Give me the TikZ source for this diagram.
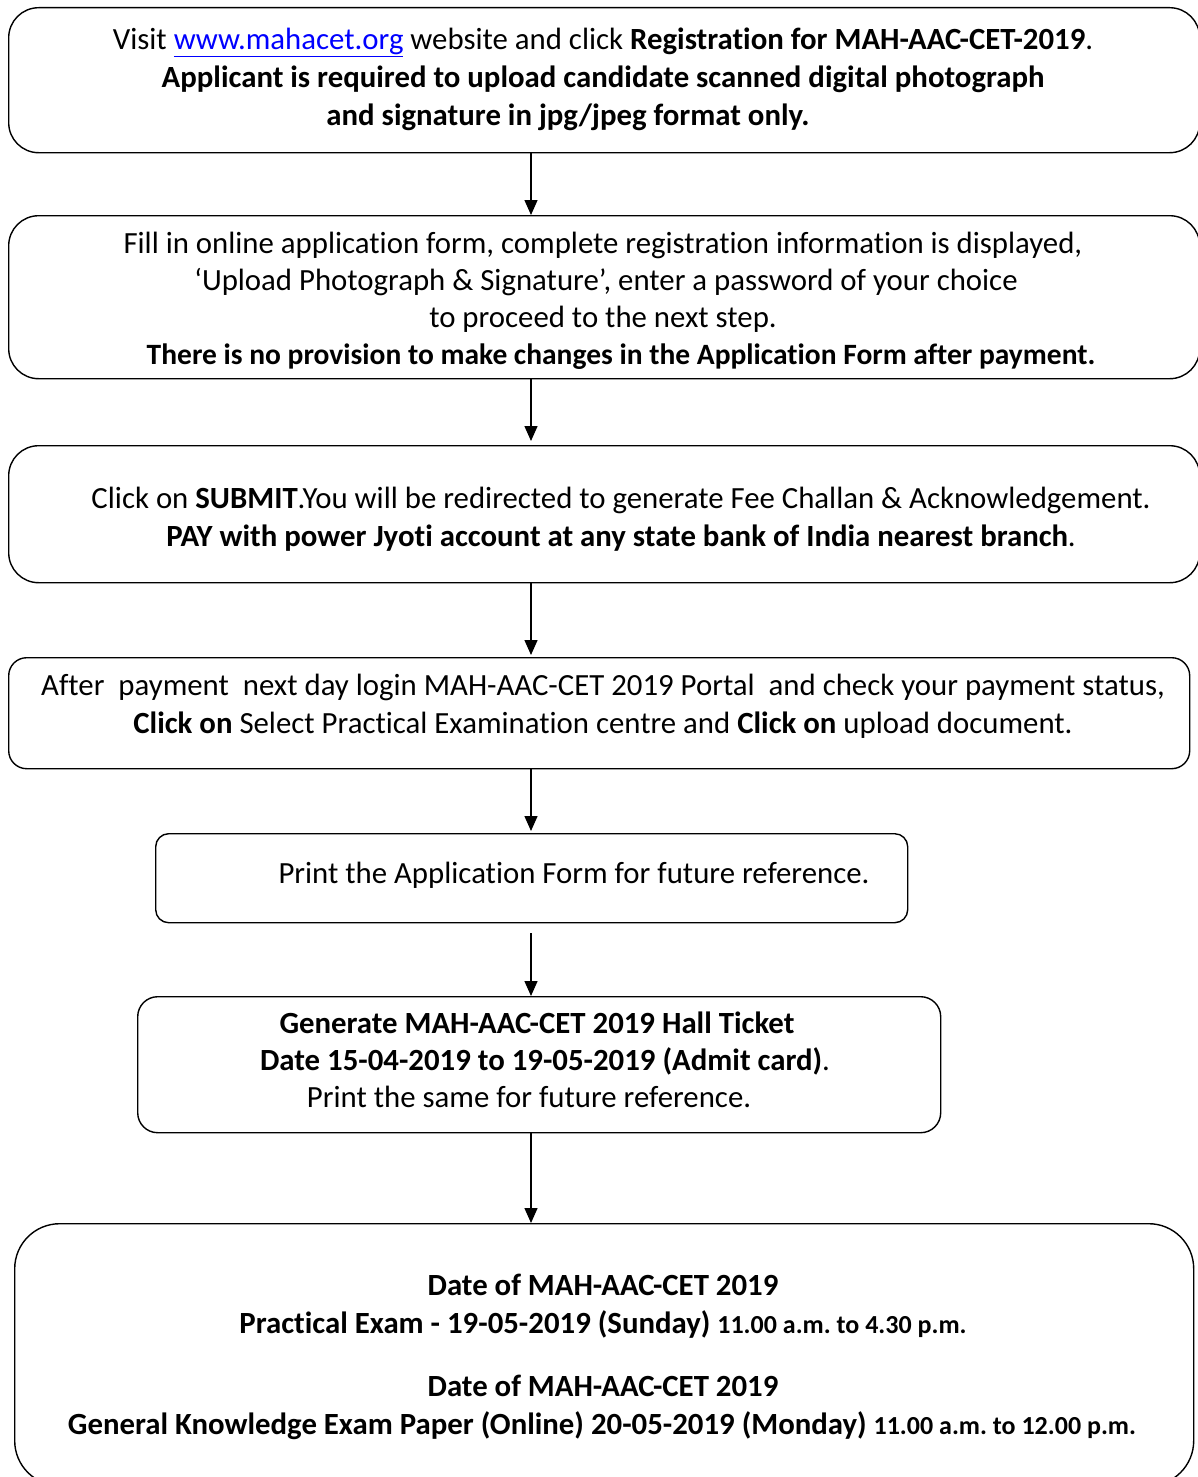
\documentclass[tikz,border=0pt]{standalone}
\usepackage{fontspec}
\setmainfont[Ligatures=CommonOff]{Carlito}
\usetikzlibrary{arrows.meta}
\frenchspacing
\definecolor{linkblue}{RGB}{0,0,255}
\newcommand\linktext[1]{\textcolor{linkblue}{\underline{#1}}}
\tikzset{
  box/.style={draw, line width=1.4pt, rounded corners=#1, anchor=north west, inner sep=0pt},
  txt/.style={anchor=base, inner sep=0pt, font=\fontsize{30.8}{37}\selectfont\frenchspacing},
  btxt/.style={anchor=base, inner sep=0pt, font=\fontsize{30.8}{37}\selectfont\bfseries\frenchspacing},
  arr/.style={line width=1.4pt, -{Triangle[width=13pt,length=15pt]}},
}
\newcommand\smalltxt[1]{{\fontsize{26}{31}\selectfont #1}}
\begin{document}
\begin{tikzpicture}[x=1pt,y=-1pt]
\useasboundingbox (0,0) rectangle (1197,1477);
\fill[white] (0,0) rectangle (1197,1477);

% boxes
\node[box=30pt, minimum width=1191pt, minimum height=145pt] (b1) at (8,7) {};
\node[box=30pt, minimum width=1191pt, minimum height=163pt] (b2) at (8,215) {};
\node[box=30pt, minimum width=1191pt, minimum height=137pt] (b3) at (8,445) {};
\node[box=18pt, minimum width=1181pt, minimum height=111pt] (b4) at (8,657) {};
\node[box=13pt, minimum width=752pt, minimum height=89pt] (b5) at (155,833) {};
\node[box=20pt, minimum width=803pt, minimum height=136pt] (b6) at (137,996) {};
\node[box=45pt, minimum width=1179pt, minimum height=262pt] (b7) at (14,1223) {};

% arrows
\coordinate (ax) at (531,0);
\draw[arr] (b1.south -| ax) -- (b2.north -| ax);
\draw[arr, shorten >=4pt] (b2.south -| ax) -- (b3.north -| ax);
\draw[arr, shorten >=2pt] (b3.south -| ax) -- (b4.north -| ax);
\draw[arr, shorten >=2pt] (b4.south -| ax) -- (b5.north -| ax);
\draw[arr, shorten <=10pt] (b5.south -| ax) -- (b6.north -| ax);
\draw[arr] (b6.south -| ax) -- (b7.north -| ax);

% box 1 text
\node[txt] (t11) at (603,50) {Visit \linktext{www.mahacet.org} website and click \textbf{Registration for MAH-AAC-CET-2019}.};
\node[btxt] (t12) at (603,88) {Applicant is required to upload candidate scanned digital photograph};
\node[btxt] (t13) at (568,125) {and signature in jpg/jpeg format only.};

% box 2 text
\node[txt] (t21) at (603,253) {Fill in online application form, complete registration information is displayed,};
\node[txt] (t22) at (606,290) {‘Upload Photograph \& Signature’, enter a password of your choice};
\node[txt] (t23) at (603,327) {to proceed to the next step.};
\node[btxt, font=\fontsize{29.5}{36}\selectfont\bfseries\frenchspacing] (t24) at (621,364) {There is no provision to make changes in the Application Form after payment.};

% box 3 text
\node[txt] (t31) at (621,508) {Click on \textbf{SUBMIT}.You will be redirected to generate Fee Challan \& Acknowledgement.};
\node[txt] (t32) at (621,546) {\textbf{PAY with power Jyoti account at any state bank of India nearest branch}.};

% box 4 text
\node[txt] (t41) at (603,695) {After\ \ payment\ \ next day login MAH-AAC-CET 2019 Portal\ \ and check your payment status,};
\node[txt] (t42) at (603,733) {\textbf{Click on} Select Practical Examination centre and \textbf{Click on} upload document.};

% box 5 text
\node[txt] (t51) at (574,883) {Print the Application Form for future reference.};

% box 6 text
\node[btxt] (t61) at (537,1033) {Generate MAH-AAC-CET 2019 Hall Ticket};
\node[txt] (t62) at (545,1070) {\textbf{Date 15-04-2019 to 19-05-2019 (Admit card)}.};
\node[txt] (t63) at (529,1107) {Print the same for future reference.};

% box 7 text
\node[btxt] (t71) at (603,1295) {Date of MAH-AAC-CET 2019};
\node[btxt] (t72) at (603,1333) {Practical Exam - 19-05-2019 (Sunday) \smalltxt{11.00 a.m. to 4.30 p.m.}};
\node[btxt] (t73) at (603,1396) {Date of MAH-AAC-CET 2019};
\node[btxt] (t74) at (602,1434) {General Knowledge Exam Paper (Online) 20-05-2019 (Monday) \smalltxt{11.00 a.m. to 12.00 p.m.}};
\end{tikzpicture}
\end{document}
